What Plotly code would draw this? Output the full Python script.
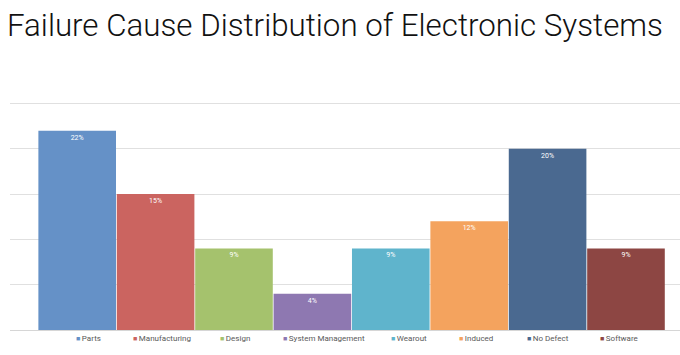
import plotly.graph_objects as go

categories = ["Parts", "Manufacturing", "Design", "System Management",
              "Wearout", "Induced", "No Defect", "Software"]
values = [22, 15, 9, 4, 9, 12, 20, 9]
colors = ["#6591C7", "#CB6460", "#A5C26D", "#8E78B1",
          "#5FB4CC", "#F4A35E", "#4A6990", "#8D4643"]
# legend marker position (pixels) for each category
legend_px = [76, 133, 220, 283, 391, 459, 527, 600]

W, H = 680, 355
L, R, T, B = 10, 0, 100, 25
pw = W - L - R

fig = go.Figure()
for i, (c, v, col) in enumerate(zip(categories, values, colors)):
    fig.add_trace(go.Bar(
        x=[c], y=[v], marker=dict(color=col, line=dict(width=0)),
        text=[f"{v}%"], texttemplate="%{text}", textposition="inside",
        insidetextanchor="end", textangle=0,
        textfont=dict(color="white", size=7, family="Roboto"),
        showlegend=False, cliponaxis=False,
    ))
for i, (c, col) in enumerate(zip(categories, colors)):
    lg = "legend" if i == 0 else f"legend{i+1}"
    fig.add_trace(go.Scatter(
        x=[None], y=[None], mode="markers",
        name=f"<span style='color:{col};font-size:7px'>■</span>\u2009{c}",
        marker=dict(symbol="square", size=4, color="rgba(0,0,0,0)"),
        legend=lg, showlegend=True,
    ))

legend_common = dict(
    orientation="h", yanchor="middle", y=-0.035, xanchor="left",
    font=dict(size=8, color="#595959", family="Roboto"),
    bgcolor="rgba(0,0,0,0)", itemwidth=30, tracegroupgap=0,
)
layout_legends = {}
for i in range(len(categories)):
    key = "legend" if i == 0 else f"legend{i+1}"
    d = dict(legend_common)
    d["x"] = (legend_px[i] - 40 - L) / pw
    layout_legends[key] = d

fig.update_layout(
    width=W, height=H,
    margin=dict(l=L, r=R, t=T, b=B, pad=0, autoexpand=False),
    paper_bgcolor="white", plot_bgcolor="white",
    barmode="overlay", bargap=0.01,
    title=dict(text="Failure Cause Distribution of Electronic Systems",
               x=7 / W, xanchor="left", xref="container",
               y=1 - 25 / H, yanchor="middle", yref="container",
               pad=dict(l=0, r=0, t=0, b=0),
               font=dict(family="Roboto", size=31.3, color="#111111", weight=300)),
    xaxis=dict(type="category", categoryorder="array", categoryarray=categories,
               range=[-0.857, 7.689], showticklabels=False, ticks="",
               showgrid=False, showline=True, linecolor="#d6d6d6", linewidth=1,
               zeroline=False, fixedrange=True),
    yaxis=dict(range=[0, 25.39], dtick=5, showticklabels=False, ticks="",
               showgrid=True, gridcolor="#e0e0e0", gridwidth=1,
               zeroline=False, showline=False, fixedrange=True),
    **layout_legends,
)

fig.write_html("out.html", config={"displayModeBar": False},
               post_script="document.body.style.margin='0';document.body.style.overflow='hidden';")
